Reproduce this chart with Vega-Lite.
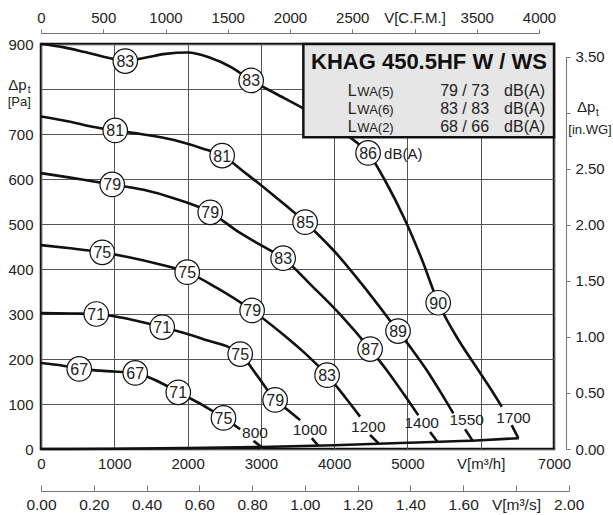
{
  "$schema": "https://vega.github.io/schema/vega-lite/v6.json",
  "width": 513,
  "height": 405,
  "autosize": {"type": "none"},
  "padding": {"left": 41, "top": 44, "right": 59, "bottom": 66},
  "background": "white",
  "config": {
    "font": "Liberation Sans",
    "view": {"stroke": "#111", "strokeWidth": 2.5},
    "axis": {"labelFont": "Liberation Sans", "labelFontSize": 15, "labelColor": "#222", "gridColor": "#555", "gridWidth": 1, "gridOpacity": 1, "domainColor": "#777", "tickColor": "#777", "labelOverlap": false, "labelFlush": false}
  },
  "datasets": {
    "curves": [
      {"s":"1700a","q":0,"p":900},{"s":"1700a","q":300,"p":893},{"s":"1700a","q":600,"p":882},{"s":"1700a","q":900,"p":870},{"s":"1700a","q":1150,"p":863},{"s":"1700a","q":1400,"p":869},{"s":"1700a","q":1700,"p":878},{"s":"1700a","q":2000,"p":881},{"s":"1700a","q":2300,"p":870},{"s":"1700a","q":2600,"p":848},{"s":"1700a","q":2868,"p":819},{"s":"1700a","q":3200,"p":790},{"s":"1700a","q":3600,"p":755},{"s":"1700a","q":4000,"p":715},{"s":"1700a","q":4300,"p":682},{"s":"1700a","q":4463,"p":658},{"s":"1700a","q":4700,"p":595},{"s":"1700a","q":4950,"p":515},{"s":"1700a","q":5200,"p":420},{"s":"1700a","q":5420,"p":325},{"s":"1700a","q":5650,"p":255},{"s":"1700a","q":5968,"p":175},{"s":"1700a","q":6150,"p":130},{"s":"1700a","q":6287,"p":94},
      {"s":"1700b","q":6423,"p":53},{"s":"1700b","q":6513,"p":24},
      {"s":"1550a","q":0,"p":739},{"s":"1550a","q":400,"p":727},{"s":"1550a","q":700,"p":716},{"s":"1550a","q":1013,"p":708},{"s":"1550a","q":1400,"p":699},{"s":"1550a","q":1800,"p":687},{"s":"1550a","q":2200,"p":668},{"s":"1550a","q":2472,"p":652},{"s":"1550a","q":2800,"p":612},{"s":"1550a","q":3200,"p":560},{"s":"1550a","q":3604,"p":504},{"s":"1550a","q":4000,"p":440},{"s":"1550a","q":4400,"p":362},{"s":"1550a","q":4872,"p":262},{"s":"1550a","q":5050,"p":224},{"s":"1550a","q":5264,"p":175},{"s":"1550a","q":5450,"p":127},{"s":"1550a","q":5627,"p":79},
      {"s":"1550b","q":5786,"p":44},{"s":"1550b","q":5891,"p":18},
      {"s":"1400a","q":0,"p":613},{"s":"1400a","q":400,"p":603},{"s":"1400a","q":700,"p":595},{"s":"1400a","q":972,"p":588},{"s":"1400a","q":1400,"p":576},{"s":"1400a","q":1800,"p":558},{"s":"1400a","q":2309,"p":526},{"s":"1400a","q":2700,"p":482},{"s":"1400a","q":3000,"p":453},{"s":"1400a","q":3304,"p":424},{"s":"1400a","q":3700,"p":362},{"s":"1400a","q":4100,"p":296},{"s":"1400a","q":4491,"p":222},{"s":"1400a","q":4718,"p":175},{"s":"1400a","q":4950,"p":122},{"s":"1400a","q":5149,"p":75},
      {"s":"1400b","q":5309,"p":38},{"s":"1400b","q":5409,"p":16},
      {"s":"1200a","q":0,"p":453},{"s":"1200a","q":400,"p":446},{"s":"1200a","q":836,"p":437},{"s":"1200a","q":1200,"p":426},{"s":"1200a","q":1600,"p":411},{"s":"1200a","q":1995,"p":393},{"s":"1200a","q":2400,"p":358},{"s":"1200a","q":2881,"p":308},{"s":"1200a","q":3300,"p":255},{"s":"1200a","q":3600,"p":213},{"s":"1200a","q":3904,"p":164},{"s":"1200a","q":4150,"p":115},{"s":"1200a","q":4354,"p":72},
      {"s":"1200b","q":4490,"p":31},{"s":"1200b","q":4604,"p":13},
      {"s":"1000a","q":0,"p":302},{"s":"1000a","q":400,"p":301},{"s":"1000a","q":754,"p":300},{"s":"1000a","q":1000,"p":295},{"s":"1000a","q":1300,"p":285},{"s":"1000a","q":1654,"p":271},{"s":"1000a","q":2200,"p":245},{"s":"1000a","q":2718,"p":211},{"s":"1000a","q":2950,"p":163},{"s":"1000a","q":3195,"p":109},{"s":"1000a","q":3380,"p":85},{"s":"1000a","q":3536,"p":64},
      {"s":"1000b","q":3695,"p":24},{"s":"1000b","q":3786,"p":7},
      {"s":"800a","q":0,"p":191},{"s":"800a","q":300,"p":185},{"s":"800a","q":522,"p":178},{"s":"800a","q":900,"p":173},{"s":"800a","q":1286,"p":169},{"s":"800a","q":1600,"p":150},{"s":"800a","q":1873,"p":126},{"s":"800a","q":2200,"p":98},{"s":"800a","q":2490,"p":69},{"s":"800a","q":2718,"p":44},
      {"s":"800b","q":2900,"p":18},{"s":"800b","q":3013,"p":4},
      {"s":"base","q":0,"p":0},{"s":"base","q":1000,"p":0.5},{"s":"base","q":2000,"p":2},{"s":"base","q":3000,"p":4.5},{"s":"base","q":4000,"p":8.5},{"s":"base","q":5000,"p":14},{"s":"base","q":6000,"p":19.5},{"s":"base","q":6520,"p":24}
    ],
    "circles": [
      {"q":1150,"p":862,"t":"83"},{"q":2868,"p":819,"t":"83"},{"q":4463,"p":658,"t":"86"},{"q":5420,"p":325,"t":"90"},
      {"q":1013,"p":708,"t":"81"},{"q":2472,"p":652,"t":"81"},{"q":3604,"p":504,"t":"85"},{"q":4872,"p":262,"t":"89"},
      {"q":972,"p":588,"t":"79"},{"q":2309,"p":526,"t":"79"},{"q":3304,"p":424,"t":"83"},{"q":4491,"p":222,"t":"87"},
      {"q":836,"p":437,"t":"75"},{"q":1995,"p":393,"t":"75"},{"q":2881,"p":308,"t":"79"},{"q":3904,"p":164,"t":"83"},
      {"q":754,"p":300,"t":"71"},{"q":1654,"p":271,"t":"71"},{"q":2718,"p":211,"t":"75"},{"q":3195,"p":109,"t":"79"},
      {"q":522,"p":178,"t":"67"},{"q":1286,"p":169,"t":"67"},{"q":1873,"p":126,"t":"71"},{"q":2490,"p":69,"t":"75"}
    ],
    "rpm": [
      {"q":2920,"p":35,"t":"800"},{"q":3670,"p":42,"t":"1000"},{"q":4466,"p":48,"t":"1200"},{"q":5194,"p":57,"t":"1400"},{"q":5808,"p":64,"t":"1550"},{"q":6447,"p":70,"t":"1700"}
    ],
    "box": [{"q":3580,"q2":7000,"p":693,"p2":900}],
    "title": [{"q":5294,"p":861,"t":"KHAG 450.5HF W / WS"}],
    "rowsL": [{"q":4187,"p":795,"t":"L"},{"q":4187,"p":756,"t":"L"},{"q":4187,"p":715,"t":"L"}],
    "rowsW": [{"q":4187,"p":795,"t":"WA(5)"},{"q":4187,"p":756,"t":"WA(6)"},{"q":4187,"p":715,"t":"WA(2)"}],
    "rowsV": [{"q":6114,"p":795,"t":"79 / 73"},{"q":6114,"p":756,"t":"83 / 83"},{"q":6114,"p":715,"t":"68 / 66"}],
    "rowsD": [{"q":6877,"p":795,"t":"dB(A)"},{"q":6877,"p":756,"t":"dB(A)"},{"q":6877,"p":715,"t":"dB(A)"}],
    "dba": [{"q":4463,"p":658,"t":"dB(A)"}],
    "dp": [{"q":-446,"p":810,"t":"Δp"},{"q":7314,"p":759,"t":"Δp"}],
    "dpt": [{"q":-180,"p":798,"t":"t"},{"q":7573,"p":747,"t":"t"}],
    "units": [{"q":-296,"p":771,"t":"[Pa]"},{"q":7491,"p":710,"t":"[in.WG]"}]
  },
  "layer": [
    {
      "layer": [
        {
          "data": {"name": "curves"},
          "mark": {"type": "line", "color": "#111", "strokeWidth": 2.6, "interpolate": "monotone"},
          "encoding": {
            "x": {"field": "q", "type": "quantitative", "scale": {"domain": [0, 7000], "nice": false, "zero": false},
              "axis": {"title": null, "values": [0,1000,2000,3000,4000,5000,6000,7000], "format": "d", "ticks": false, "domain": false, "grid": true, "labelPadding": 7, "labelExpr": "datum.value == 6000 ? 'V[m³/h]' : datum.label"}},
            "y": {"field": "p", "type": "quantitative", "scale": {"domain": [0, 900], "nice": false, "zero": false},
              "axis": {"title": null, "values": [0,100,200,300,400,500,600,700,800,900], "format": "d", "ticks": false, "domain": false, "grid": true, "labelPadding": 8, "labelExpr": "datum.value == 800 ? '' : datum.label"}},
            "detail": {"field": "s"}
          }
        },
        {
          "data": {"name": "box"},
          "mark": {"type": "rect", "fill": "#e6e6e6", "stroke": "#111", "strokeWidth": 2.5},
          "encoding": {"x": {"field": "q", "type": "quantitative"}, "x2": {"field": "q2"}, "y": {"field": "p", "type": "quantitative"}, "y2": {"field": "p2"}}
        },
        {
          "data": {"name": "circles"},
          "mark": {"type": "point", "shape": "circle", "filled": true, "fill": "white", "stroke": "#111", "strokeWidth": 1.2, "size": 600, "opacity": 1},
          "encoding": {"x": {"field": "q", "type": "quantitative"}, "y": {"field": "p", "type": "quantitative"}}
        },
        {
          "data": {"name": "circles"},
          "mark": {"type": "text", "fontSize": 16, "color": "#222", "align": "center", "baseline": "middle", "dy": 1},
          "encoding": {"x": {"field": "q", "type": "quantitative"}, "y": {"field": "p", "type": "quantitative"}, "text": {"field": "t"}}
        },
        {
          "data": {"name": "rpm"},
          "mark": {"type": "text", "fontSize": 15.5, "color": "#222", "align": "center", "baseline": "middle"},
          "encoding": {"x": {"field": "q", "type": "quantitative"}, "y": {"field": "p", "type": "quantitative"}, "text": {"field": "t"}}
        },
        {
          "data": {"name": "dba"},
          "mark": {"type": "text", "fontSize": 15, "color": "#222", "align": "left", "baseline": "middle", "dx": 16, "dy": 1},
          "encoding": {"x": {"field": "q", "type": "quantitative"}, "y": {"field": "p", "type": "quantitative"}, "text": {"field": "t"}}
        },
        {
          "data": {"name": "title"},
          "mark": {"type": "text", "fontSize": 22, "fontWeight": "bold", "color": "#111", "align": "center", "baseline": "middle"},
          "encoding": {"x": {"field": "q", "type": "quantitative"}, "y": {"field": "p", "type": "quantitative"}, "text": {"field": "t"}}
        },
        {
          "data": {"name": "rowsL"},
          "mark": {"type": "text", "fontSize": 16, "color": "#222", "align": "left", "baseline": "middle"},
          "encoding": {"x": {"field": "q", "type": "quantitative"}, "y": {"field": "p", "type": "quantitative"}, "text": {"field": "t"}}
        },
        {
          "data": {"name": "rowsW"},
          "mark": {"type": "text", "fontSize": 13, "color": "#222", "align": "left", "baseline": "middle", "dx": 9.5, "dy": 1},
          "encoding": {"x": {"field": "q", "type": "quantitative"}, "y": {"field": "p", "type": "quantitative"}, "text": {"field": "t"}}
        },
        {
          "data": {"name": "rowsV"},
          "mark": {"type": "text", "fontSize": 16, "color": "#222", "align": "right", "baseline": "middle"},
          "encoding": {"x": {"field": "q", "type": "quantitative"}, "y": {"field": "p", "type": "quantitative"}, "text": {"field": "t"}}
        },
        {
          "data": {"name": "rowsD"},
          "mark": {"type": "text", "fontSize": 16, "color": "#222", "align": "right", "baseline": "middle"},
          "encoding": {"x": {"field": "q", "type": "quantitative"}, "y": {"field": "p", "type": "quantitative"}, "text": {"field": "t"}}
        },
        {
          "data": {"name": "dp"},
          "mark": {"type": "text", "fontSize": 15, "color": "#222", "align": "left", "baseline": "middle"},
          "encoding": {"x": {"field": "q", "type": "quantitative"}, "y": {"field": "p", "type": "quantitative"}, "text": {"field": "t"}}
        },
        {
          "data": {"name": "dpt"},
          "mark": {"type": "text", "fontSize": 10, "color": "#222", "align": "left", "baseline": "middle"},
          "encoding": {"x": {"field": "q", "type": "quantitative"}, "y": {"field": "p", "type": "quantitative"}, "text": {"field": "t"}}
        },
        {
          "data": {"name": "units"},
          "mark": {"type": "text", "fontSize": 13, "color": "#222", "align": "center", "baseline": "middle"},
          "encoding": {"x": {"field": "q", "type": "quantitative"}, "y": {"field": "p", "type": "quantitative"}, "text": {"field": "t"}}
        }
      ]
    },
    {
      "data": {"values": [{"cfm": 0}, {"cfm": 4000}]},
      "mark": {"type": "point", "opacity": 0},
      "encoding": {
        "x": {"field": "cfm", "type": "quantitative", "scale": {"domain": [0, 4000], "range": [0, 498], "nice": false, "zero": false},
          "axis": {"orient": "top", "offset": 11, "title": null, "grid": false, "values": [0,500,1000,1500,2000,2500,3000,3500,4000], "format": "d", "tickSize": 4, "labelPadding": 4, "labelExpr": "datum.value == 3000 ? 'V[C.F.M.]' : datum.label"}}
      }
    },
    {
      "data": {"values": [{"ms": 0}, {"ms": 2}]},
      "mark": {"type": "point", "opacity": 0},
      "encoding": {
        "x": {"field": "ms", "type": "quantitative", "scale": {"domain": [0, 2], "range": [0, 527.7], "nice": false, "zero": false},
          "axis": {"orient": "bottom", "offset": 42, "title": null, "grid": false, "values": [0,0.2,0.4,0.6,0.8,1,1.2,1.4,1.6,1.8,2], "format": ".2f", "tickSize": -6, "labelPadding": 12, "labelFontSize": 15.5, "labelExpr": "abs(datum.value - 1.8) < 0.001 ? 'V[m³/s]' : datum.label"}}
      }
    },
    {
      "data": {"values": [{"w": 0}, {"w": 3.5}]},
      "mark": {"type": "point", "opacity": 0},
      "encoding": {
        "y": {"field": "w", "type": "quantitative", "scale": {"domain": [0, 3.5], "range": [405, 12.7], "nice": false, "zero": false},
          "axis": {"orient": "right", "offset": 12, "title": null, "grid": false, "values": [0,0.5,1,1.5,2,2.5,3,3.5], "format": ".2f", "tickSize": 4, "labelPadding": 5, "labelExpr": "datum.value == 3 ? '' : datum.label"}}
      }
    }
  ],
  "resolve": {"scale": {"x": "independent", "y": "independent"}, "axis": {"x": "independent", "y": "independent"}}
}
